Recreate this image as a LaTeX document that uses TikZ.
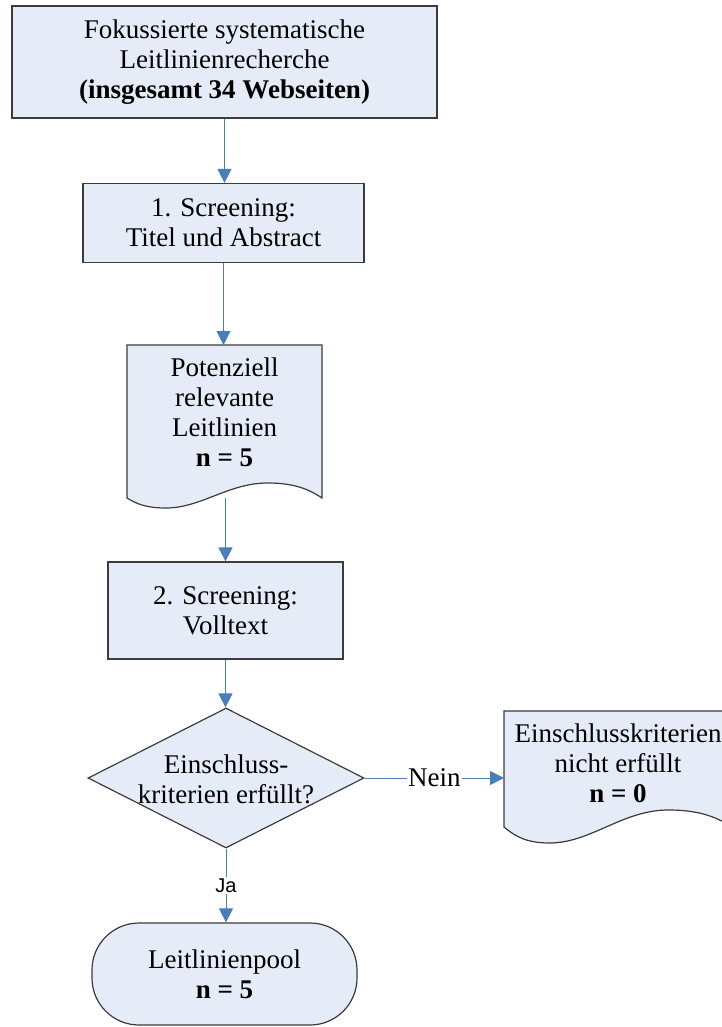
\documentclass[tikz,border=0pt]{standalone}
\usepackage{fontspec}
\setmainfont{Liberation Serif}
\newfontfamily\arialfont{Liberation Sans}
\usetikzlibrary{shapes.geometric,arrows.meta,calc}
\definecolor{boxfill}{HTML}{E6ECF7}
\definecolor{boxline}{HTML}{3C3C3C}
\definecolor{conn}{HTML}{4A7EBB}
\tikzset{
  base/.style={font=\fontsize{27}{30}\selectfont, align=center, inner sep=0pt},
  proc/.style={base, draw=boxline, fill=boxfill, line width=1.2pt},
  ghost/.style={inner sep=0pt, outer sep=0pt, draw=none},
  docshape/.style={draw=boxline, fill=boxfill, line width=1.2pt},
  arr/.style={draw=conn, line width=1pt, -{Triangle[width=14pt,length=14pt]}},
  lbl/.style={fill=white, inner sep=1.5pt},
}
% #1 L, #2 T, #3 R, #4 B, #5 depth of dip, #6 height of hump
\newcommand\mydocshape[6]{%
  \pgfmathsetmacro\dW{#3-#1}%
  \path[docshape] (#1,#2) -- (#3,#2) -- (#3,#4)
    .. controls ({#3-0.08*\dW},{#4-0.7*#6}) and ({#1+0.84*\dW},{#4-#6}) .. ({#1+0.72*\dW},{#4-#6})
    .. controls ({#1+0.52*\dW},{#4-#6}) and ({#1+0.38*\dW},{#4+#5}) .. ({#1+0.2*\dW},{#4+#5})
    .. controls ({#1+0.1*\dW},{#4+#5}) and ({#1+0.05*\dW},{#4+0.6*#5}) .. (#1,#4) -- cycle;}
\begin{document}
\begin{tikzpicture}[x=1pt,y=-1pt]
\clip (0,0) rectangle (722,1027);
\fill[white] (0,0) rectangle (722,1027);

% boxes
\node[proc, minimum width=425, minimum height=112] (b1) at (224.5,62)
  {Fokussierte systematische\\Leitlinienrecherche\\\textbf{(insgesamt 34 Webseiten)}};
\node[proc, minimum width=281, minimum height=79] (b2) at (223.5,223)
  {1. Screening:\\Titel und Abstract};

% document 1
\mydocshape{127}{345}{322}{498}{10}{15}
\node[ghost, minimum width=195, minimum height=153] (d1) at (224.5,421.5) {};
\node[base] (d1t) at (224.5,412) {Potenziell\\relevante\\Leitlinien\\\textbf{n = 5}};

\node[proc, minimum width=235, minimum height=97] (b3) at (225.5,610.5)
  {2. Screening:\\Volltext};

% decision
\node[diamond, draw=boxline, fill=boxfill, line width=1.2pt, inner sep=0pt,
      minimum width=276, minimum height=140] (dm) at (226,778) {};
\node[base] (dmt) at (226,779) {Einschluss-\\kriterien erfüllt?};

% document 2
\mydocshape{504}{711}{732}{827}{16}{17}
\node[ghost, minimum width=228, minimum height=116] (d2) at (618,769) {};
\node[base] (d2t) at (618,763) {Einschlusskriterien\\nicht erfüllt\\\textbf{n = 0}};

% terminator
\node[proc, rounded corners=47pt, minimum width=265, minimum height=102] (tm) at (224.5,974)
  {Leitlinienpool\\\textbf{n = 5}};

% connectors
\draw[arr] (b1.south) -- (b1.south |- b2.north);
\draw[arr] (b2.south) -- (b2.south |- d1.north);
\draw[arr] (b3.north |- d1.south) -- (b3.north);
\draw[arr] (b3.south) -- (b3.south |- dm.north);
\draw[arr] (dm.east) -- node[lbl, font=\fontsize{27}{30}\selectfont] {Nein} (dm.east -| d2.west);
\draw[arr] (dm.south) -- node[lbl, font=\arialfont\fontsize{20}{22}\selectfont] {Ja} (dm.south |- tm.north);
\end{tikzpicture}
\end{document}
